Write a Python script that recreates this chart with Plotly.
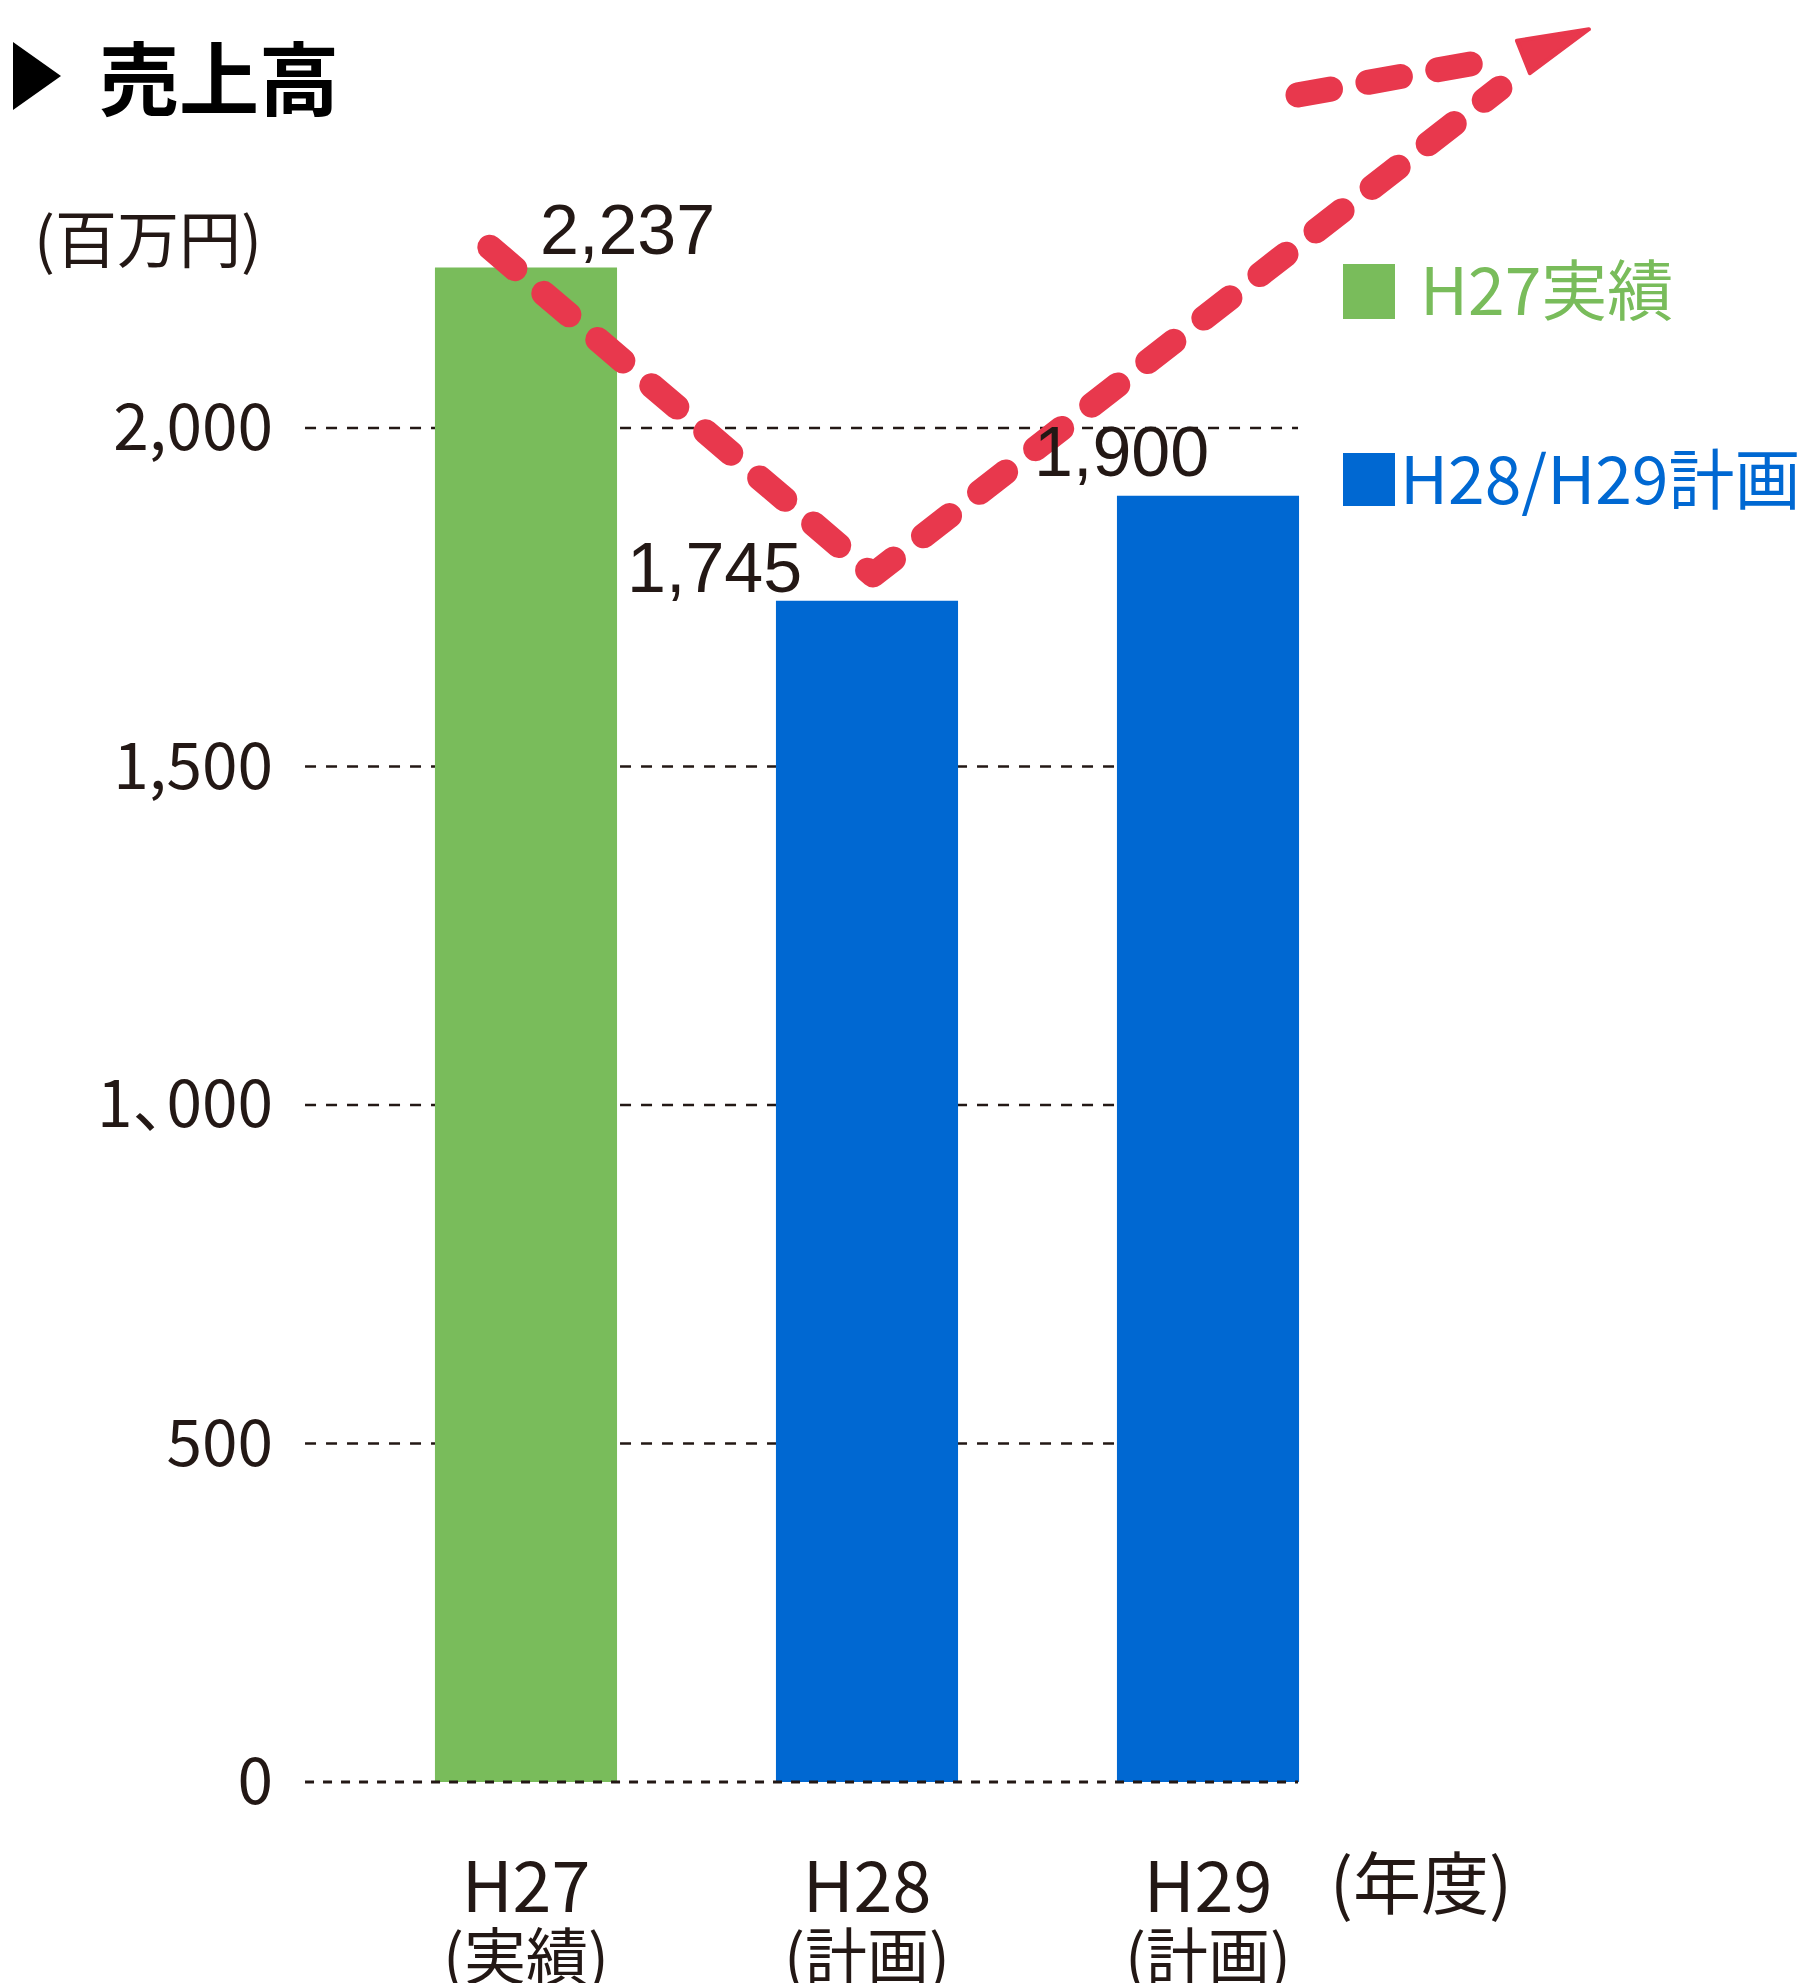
import plotly.graph_objects as go

W, H = 1810, 1983

# ---- data -------------------------------------------------------------
years = ["H27", "H28", "H29"]
kinds = ["(実績)", "(計画)", "(計画)"]
sales = [2237, 1745, 1900]
sales_text = ["2,237", "1,745", "1,900"]

tick_vals = [0, 500, 1000, 1500, 2000]
tick_text = ["0", "500", "1<span style='letter-spacing:-30px'>、</span>000", "1,500", "2,000"]

legend_names = ["H27実績", "H28/H29計画"]

# upward trend arrow, in axis units
trend_x = [-0.106, 1.018, 2.856]
trend_y = [2267, 1783, 2502]
wing_x = [2.264, 2.871]
wing_y = [2492, 2547]
head_x = [3.117, 2.906, 2.944]
head_y = [2589, 2572, 2524]

# ---- styles -----------------------------------------------------------
GREEN = "#79BC5B"
BLUE = "#0068D2"
RED = "#E8384D"
INK = "#231815"
bar_colors = [GREEN, BLUE, BLUE]
legend_colors = [GREEN, BLUE]

CJK = "Noto Sans CJK JP"
LATIN = "Liberation Sans, Noto Sans CJK JP"

X_RANGE = [-1.5425, 3.7654]
Y_RANGE = [-296.9, 2632.2]
GRID_X = [-0.648, 2.264]
BAR_W = 0.534
ARROW_DASH = "33px,38px"


def px(x):
    return x / W


def py(y):
    return 1 - y / H


xs = list(range(len(years)))

fig = go.Figure()
fig.add_trace(go.Bar(
    x=xs, y=sales, width=BAR_W,
    marker=dict(color=bar_colors, line=dict(width=0)),
    hoverinfo="skip",
))

# dashed trend arrow
fig.add_trace(go.Scatter(
    x=trend_x, y=trend_y, mode="lines",
    line=dict(color=RED, width=25, dash=ARROW_DASH),
    hoverinfo="skip",
))
fig.add_trace(go.Scatter(
    x=wing_x, y=wing_y, mode="lines",
    line=dict(color=RED, width=25, dash=ARROW_DASH),
    hoverinfo="skip",
))
fig.add_trace(go.Scatter(
    x=head_x + [head_x[0]], y=head_y + [head_y[0]], mode="lines",
    fill="toself", fillcolor=RED, line=dict(color=RED, width=4),
    hoverinfo="skip",
))

shapes = []
# dashed grid lines behind the bars
for v in tick_vals[1:]:
    shapes.append(dict(
        type="line", xref="x", yref="y", x0=GRID_X[0], x1=GRID_X[1], y0=v, y1=v,
        line=dict(color=INK, width=2.5, dash="11px,10px"), layer="below",
    ))
# baseline over the bars
shapes.append(dict(
    type="line", xref="x", yref="y", x0=GRID_X[0], x1=GRID_X[1], y0=0, y1=0,
    line=dict(color=INK, width=3, dash="9px,9px"), layer="above",
))
# title marker
shapes.append(dict(
    type="path", xref="paper", yref="paper",
    path=f"M {px(13)} {py(42)} L {px(61)} {py(76)} L {px(13)} {py(110)} Z",
    fillcolor="#000000", line=dict(width=0),
))
# legend swatches
for (y0, y1), c in zip([(264, 319), (453, 506)], legend_colors):
    shapes.append(dict(
        type="rect", xref="paper", yref="paper",
        x0=px(1343), x1=px(1395), y0=py(y1), y1=py(y0),
        fillcolor=c, line=dict(width=0),
    ))

annotations = []
annotations.append(dict(
    text="<b>売上高</b>", x=px(97), y=py(74), xref="paper", yref="paper",
    xanchor="left", yanchor="middle", showarrow=False,
    font=dict(family=CJK, size=80, color="#000000"),
))
annotations.append(dict(
    text="(百万円)", x=px(32), y=py(236), xref="paper", yref="paper",
    xanchor="left", yanchor="middle", showarrow=False,
    font=dict(family=CJK, size=62, color=INK),
))
annotations.append(dict(
    text="(年度)", x=px(1328), y=py(1879), xref="paper", yref="paper",
    xanchor="left", yanchor="middle", showarrow=False,
    font=dict(family=CJK, size=68, color=INK),
))

# value labels next to each bar top
label_dx = [102, -153, -87]
label_dy = [38, 33, 44]
for i, (v, t) in enumerate(zip(sales, sales_text)):
    annotations.append(dict(
        text=t, x=xs[i], y=v, xref="x", yref="y",
        xanchor="center", yanchor="middle", xshift=label_dx[i], yshift=label_dy[i],
        showarrow=False, font=dict(family=LATIN, size=70, color=INK),
    ))

# category labels: year on top, status below (tight line spacing)
for i in xs:
    annotations.append(dict(
        text=(f"<span style='font-size:70px'>{years[i]}</span><br>"
              f"<span style='font-size:62px'>{kinds[i]}</span>"),
        x=xs[i], y=py(1829), xref="x", yref="paper",
        xanchor="center", yanchor="top", showarrow=False,
        font=dict(family=CJK, size=52, color=INK),
    ))

# legend text
for (x0, yc), name, c in zip([(1418, 286), (1398, 475)], legend_names, legend_colors):
    annotations.append(dict(
        text=name, x=px(x0), y=py(yc), xref="paper", yref="paper",
        xanchor="left", yanchor="middle", showarrow=False,
        font=dict(family=CJK, size=66, color=c),
    ))

fig.update_layout(
    width=W, height=H,
    margin=dict(l=0, r=0, t=0, b=0),
    paper_bgcolor="white", plot_bgcolor="white",
    showlegend=False,
    shapes=shapes, annotations=annotations,
    xaxis=dict(range=X_RANGE, visible=False, fixedrange=True),
    yaxis=dict(
        range=Y_RANGE, showgrid=False, zeroline=False, showline=False,
        tickmode="array", tickvals=tick_vals, ticktext=tick_text, ticks="",
        anchor="free", position=px(305), ticklabelstandoff=32,
        tickfont=dict(family=CJK, size=64, color=INK), fixedrange=True,
    ),
)

# rounded dash ends on the arrow strokes
round_caps = (
    "var gd = document.getElementById('{plot_id}');"
    "gd.querySelectorAll('.scatterlayer .js-line').forEach(function (p) {"
    "  p.style.strokeLinecap = 'round'; p.style.strokeLinejoin = 'round';"
    "});"
)

fig.write_html("out.html", post_script=round_caps)
